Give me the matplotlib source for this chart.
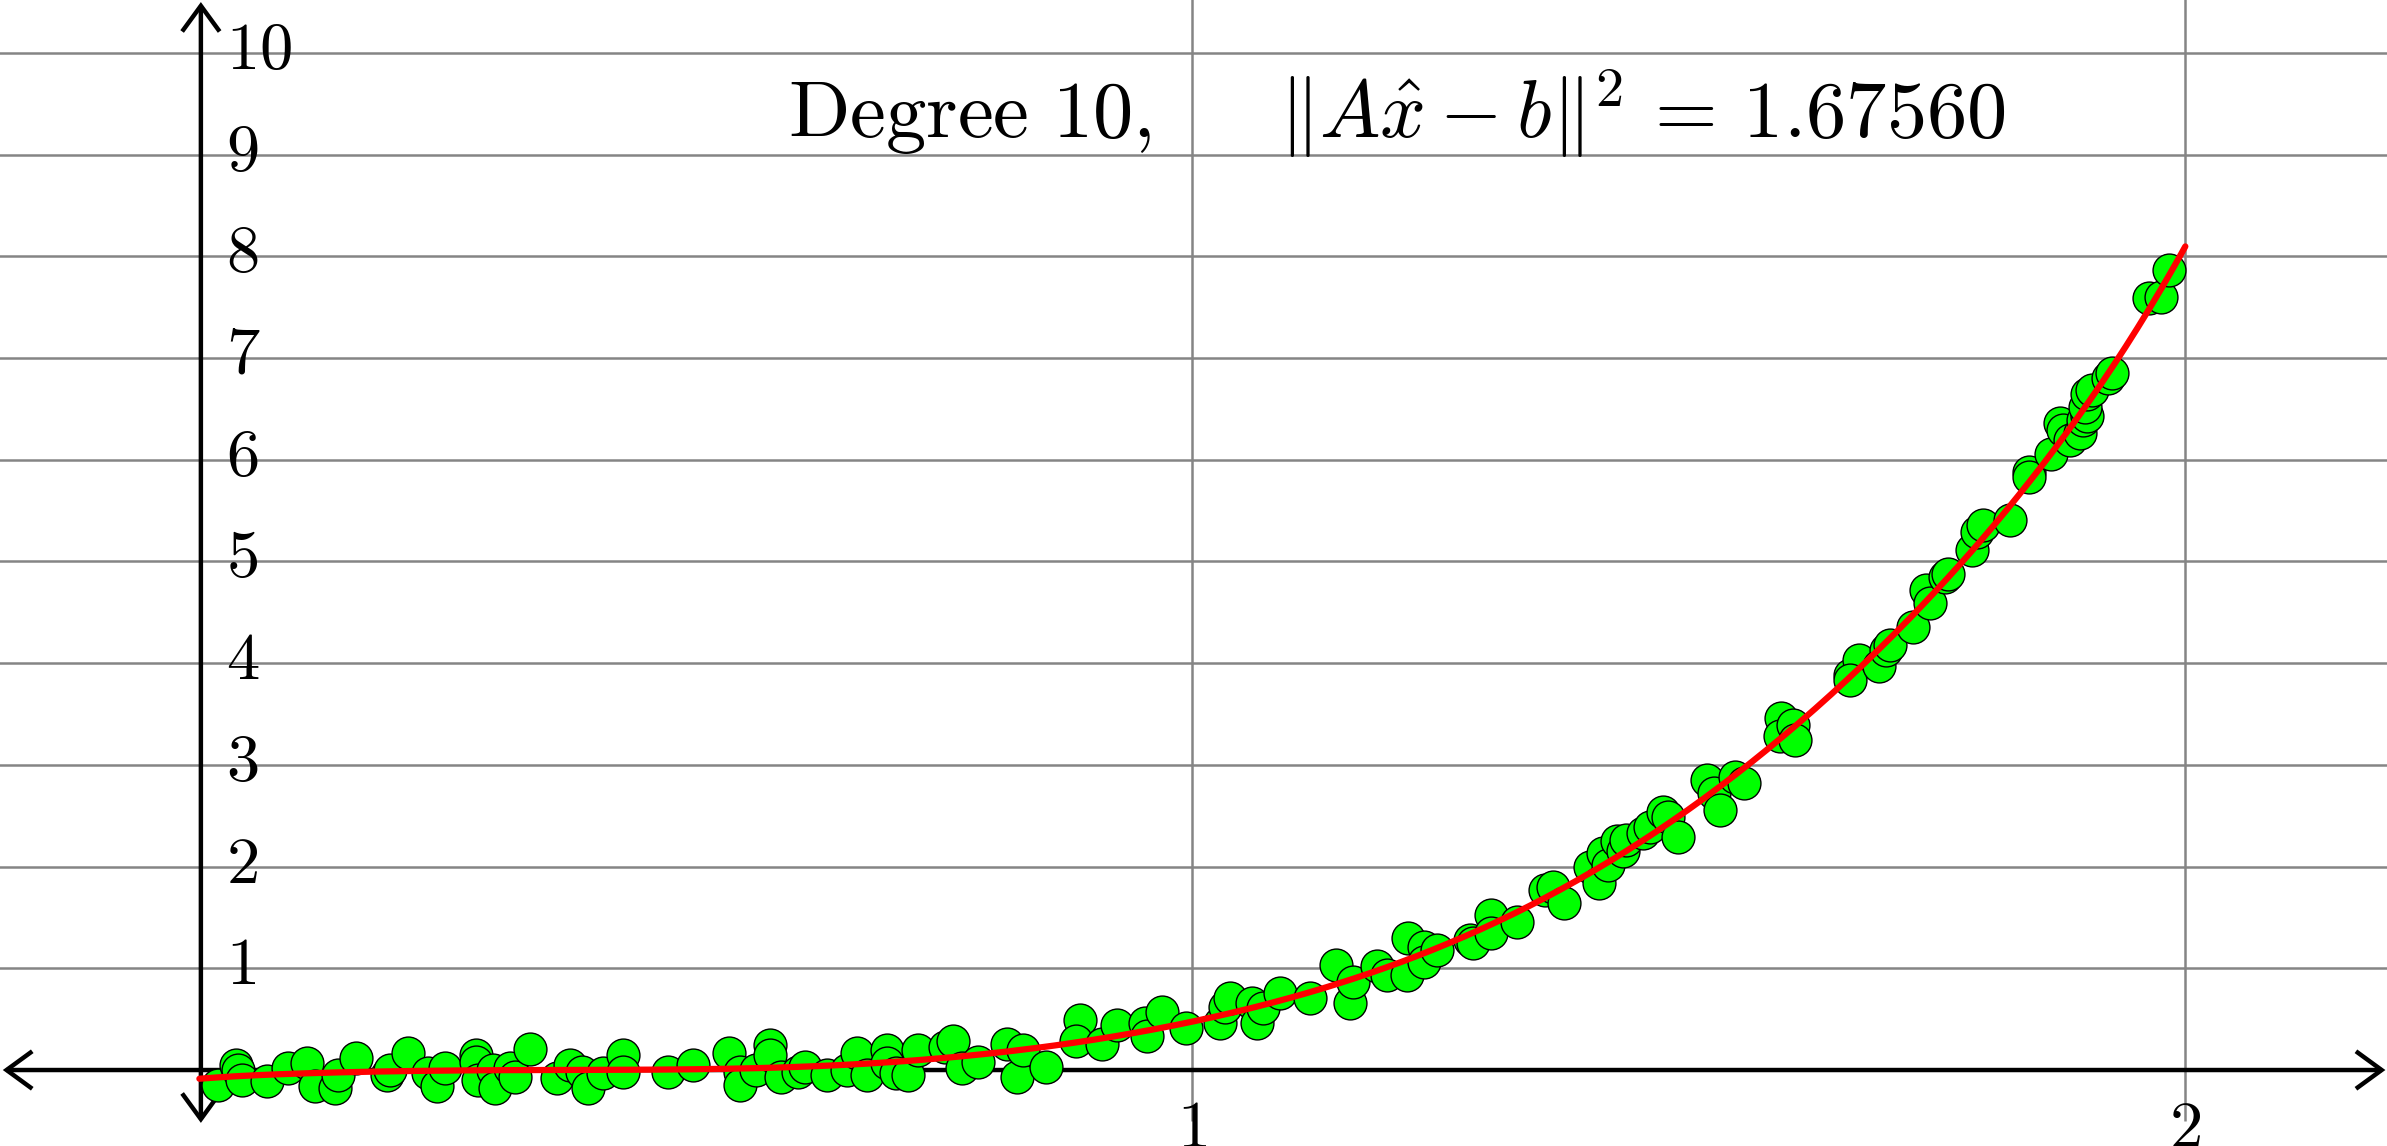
import numpy as np
import matplotlib
matplotlib.use("Agg")
import matplotlib.pyplot as plt
from matplotlib.patches import FancyArrowPatch, ArrowStyle

plt.rcParams['mathtext.fontset'] = 'cm'

# ---- data ----
x_pts = [0.019, 0.037, 0.039, 0.043, 0.068, 0.089, 0.108, 0.116, 0.137, 0.140,
         0.158, 0.189, 0.192, 0.210, 0.230, 0.239, 0.247, 0.279, 0.279, 0.281,
         0.296, 0.298, 0.313, 0.318, 0.333, 0.360, 0.373, 0.385, 0.391, 0.406,
         0.427, 0.427, 0.472, 0.497, 0.533, 0.544, 0.544, 0.561, 0.575, 0.575,
         0.586, 0.603, 0.610, 0.632, 0.652, 0.662, 0.672, 0.692, 0.692, 0.702,
         0.714, 0.724, 0.751, 0.759, 0.768, 0.784, 0.813, 0.823, 0.829, 0.853,
         0.887, 0.883, 0.909, 0.924, 0.952, 0.954, 0.969, 0.994, 1.028, 1.033,
         1.038, 1.060, 1.065, 1.071, 1.088, 1.118, 1.145, 1.159, 1.162, 1.186,
         1.196, 1.217, 1.216, 1.233, 1.233, 1.246, 1.280, 1.283, 1.301, 1.301,
         1.327, 1.355, 1.363, 1.374, 1.400, 1.410, 1.414, 1.419, 1.428, 1.434,
         1.437, 1.454, 1.461, 1.474, 1.479, 1.489, 1.518, 1.525, 1.531, 1.546,
         1.556, 1.593, 1.592, 1.605, 1.607, 1.662, 1.671, 1.662, 1.691, 1.699,
         1.703, 1.726, 1.739, 1.743, 1.758, 1.761, 1.785, 1.790, 1.796, 1.823,
         1.843, 1.843, 1.865, 1.874, 1.877, 1.884, 1.894, 1.897, 1.901, 1.899,
         1.901, 1.906, 1.922, 1.926, 1.963, 1.976, 1.984]
y_pts = [-0.15, 0.05, 0.00, -0.10, -0.11, 0.02, 0.07, -0.16, -0.18, -0.05,
         0.12, -0.05, 0.00, 0.17, -0.03, -0.16, 0.02, 0.15, 0.08, -0.10,
         0.00, -0.18, 0.02, -0.07, 0.21, -0.08, 0.05, -0.02, -0.18, -0.03,
         0.15, -0.02, -0.02, 0.05, 0.17, -0.02, -0.15, 0.00, 0.25, 0.15,
         -0.07, -0.02, 0.03, -0.05, 0.00, 0.17, -0.05, 0.20, 0.07, -0.03,
         -0.05, 0.20, 0.23, 0.29, 0.02, 0.08, 0.26, -0.07, 0.20, 0.03,
         0.49, 0.29, 0.26, 0.44, 0.46, 0.33, 0.57, 0.41, 0.46, 0.62,
         0.71, 0.66, 0.46, 0.61, 0.76, 0.71, 1.03, 0.66, 0.87, 1.02,
         0.93, 1.30, 0.93, 1.21, 1.06, 1.18, 1.28, 1.25, 1.52, 1.35,
         1.46, 1.77, 1.80, 1.64, 2.00, 1.84, 2.13, 2.02, 2.25, 2.15,
         2.26, 2.33, 2.39, 2.54, 2.49, 2.29, 2.85, 2.72, 2.56, 2.88,
         2.82, 3.46, 3.28, 3.39, 3.24, 3.88, 4.03, 3.83, 3.97, 4.13,
         4.18, 4.36, 4.72, 4.59, 4.85, 4.88, 5.11, 5.29, 5.36, 5.41,
         5.88, 5.83, 6.06, 6.36, 6.29, 6.19, 6.26, 6.39, 6.43, 6.52,
         6.65, 6.69, 6.80, 6.85, 7.59, 7.60, 7.87]
degree = 10
residual_text = "1.67560"
y_ticks = [1, 2, 3, 4, 5, 6, 7, 8, 9, 10]
x_ticks = [1, 2]

x_pts = np.array(x_pts)
y_pts = np.array(y_pts)

fig = plt.figure(figsize=(23.87, 11.46), dpi=100)
ax = fig.add_axes([0, 0, 1, 1])
ax.set_xlim(-0.2008, 2.2031)
ax.set_ylim(-0.747, 10.52)
ax.axis('off')

grid_c = '#858585'
# horizontal grid
for yv in y_ticks:
    ax.plot([-0.21, 2.21], [yv, yv], color=grid_c, lw=1.8, zorder=1, solid_capstyle='butt')
# vertical grid
for xv in x_ticks:
    ax.plot([xv, xv], [-0.5, 10.6], color=grid_c, lw=1.8, zorder=1, solid_capstyle='butt')

# axes with open arrow heads at both ends
style = ArrowStyle('<->', head_length=18.5, head_width=13.5)
ax.add_patch(FancyArrowPatch((-0.198, 0), (2.2015, 0), arrowstyle=style, mutation_scale=1,
                             lw=3.2, color='black', shrinkA=0, shrinkB=0, zorder=2,
                             capstyle='butt', joinstyle='miter'))
ax.add_patch(FancyArrowPatch((0.0015, -0.52), (0.0015, 10.50), arrowstyle=style, mutation_scale=1,
                             lw=3.2, color='black', shrinkA=0, shrinkB=0, zorder=2,
                             capstyle='butt', joinstyle='miter'))

# data points
ax.scatter(x_pts, y_pts, s=560, facecolor='#00ff00', edgecolor='black', linewidth=1.0, zorder=3)

# least squares polynomial fit
poly = np.polynomial.Polynomial.fit(x_pts, y_pts, degree)
xf = np.linspace(0, 2, 500)
ax.plot(xf, poly(xf), color='#ff0000', lw=4.5, zorder=4, solid_capstyle='round')

# tick labels
for yv in y_ticks:
    ax.text(0.027, yv + 0.03, r'$%d$' % yv, fontsize=48, ha='left', va='center', zorder=5)
for xv in x_ticks:
    ax.text(xv, -0.25, r'$%d$' % xv, fontsize=48, ha='center', va='top', zorder=5)

ax.text(1.206, 9.40,
        r'$\mathrm{Degree\ 10,}\quad\;\;\Vert A\hat{x}-b\Vert^2\,=\,%s$' % residual_text,
        fontsize=58, ha='center', va='center', zorder=5)

fig.savefig('out.png', dpi=100)
